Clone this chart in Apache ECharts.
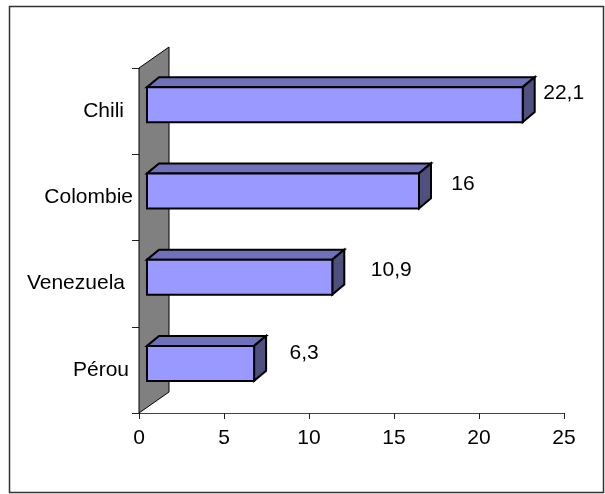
<!DOCTYPE html>
<html><head><meta charset="utf-8">
<style>html,body{margin:0;padding:0;background:#fff}#c{width:605px;height:494px}</style>
<script src="https://cdn.jsdelivr.net/npm/echarts@6/dist/echarts.min.js"></script>
</head><body><div id="c"></div>
<script>
const categories = ['Pérou', 'Venezuela', 'Colombie', 'Chili'];
const values = [6.3, 10.9, 16, 22.1];
const valueLabels = ['6,3', '10,9', '16', '22,1'];
const xTicks = [0, 5, 10, 15, 20, 25];

const catPadRight = [4, 8, 0, 9];
const labelNudge = [[38, -17], [47, -13], [32, -13], [29, -18]];

const chart = echarts.init(document.getElementById('c'), null, {renderer: 'canvas'});
const FONT = '"Liberation Sans", Arial, sans-serif';
const FS = 21;

function poly(points, fill, lw) {
  return {type: 'polygon', shape: {points}, style: {fill, stroke: '#000', lineWidth: lw, lineJoin: 'miter'}};
}
function renderBar(params, api) {
  const i = params.dataIndex;
  const end = api.coord([api.value(1), api.value(0)]);
  const base = api.coord([0, api.value(0)]);
  const x0 = base[0] + 8, x1 = end[0] + 8;
  const yT = end[1] - 24, yB = end[1] + 11;
  const dx = 12, dy = 10;
  return {type: 'group', children: [
    poly([[x0, yT], [x0 + dx, yT - dy], [x1 + dx, yT - dy], [x1, yT]], '#7070BC', 2),
    poly([[x1, yT], [x1 + dx, yT - dy], [x1 + dx, yB - dy], [x1, yB]], '#50507F', 2),
    poly([[x0, yT], [x1, yT], [x1, yB], [x0, yB]], '#9999FF', 2),
    {type: 'text', x: x1 + dx + labelNudge[i][0], y: end[1] + labelNudge[i][1],
     style: {text: valueLabels[i], fill: '#000', font: FS + 'px ' + FONT, align: 'center', verticalAlign: 'middle'}}
  ]};
}
function renderWall(params, api) {
  const c = params.coordSys;
  const dx = 30, dy = 21;
  const l = c.x, t = c.y, b = c.y + c.height;
  return poly([[l, t], [l + dx, t - dy], [l + dx, b - dy], [l, b]], '#808080', 1);
}

chart.setOption({
  animation: false,
  backgroundColor: '#fff',
  graphic: [{type: 'rect', shape: {x: 9.5, y: 6.5, width: 594, height: 486},
    style: {fill: 'none', stroke: '#333', lineWidth: 1.5}, silent: true, z: -1}],
  grid: {left: 139, top: 68, width: 425, height: 345, containLabel: false},
  xAxis: {
    type: 'value', min: xTicks[0], max: xTicks[xTicks.length - 1], interval: 5,
    splitLine: {show: false},
    axisLine: {show: true, onZero: false, lineStyle: {color: '#444', width: 1}},
    axisTick: {show: true, length: 6, lineStyle: {color: '#222'}},
    axisLabel: {color: '#000', fontFamily: FONT, fontSize: FS, margin: 15}
  },
  yAxis: {
    type: 'category',
    data: categories.map((c, i) => ({value: c, textStyle: {padding: [0, catPadRight[i], 0, 0]}})),
    axisLine: {show: true, lineStyle: {color: '#000', width: 1}},
    axisTick: {show: true, length: 7, lineStyle: {color: '#222'}},
    axisLabel: {color: '#000', fontFamily: FONT, fontSize: FS, margin: 6},
    splitLine: {show: false}
  },
  series: [
    {type: 'custom', name: 'wall', renderItem: renderWall, data: [0], encode: {x: 0}, z: 1, silent: true, clip: false},
    {type: 'custom', name: 'bars', renderItem: renderBar, z: 3, silent: true, clip: false,
     encode: {x: 1, y: 0},
     data: categories.map((c, i) => [i, values[i]])}
  ]
});
</script></body></html>
